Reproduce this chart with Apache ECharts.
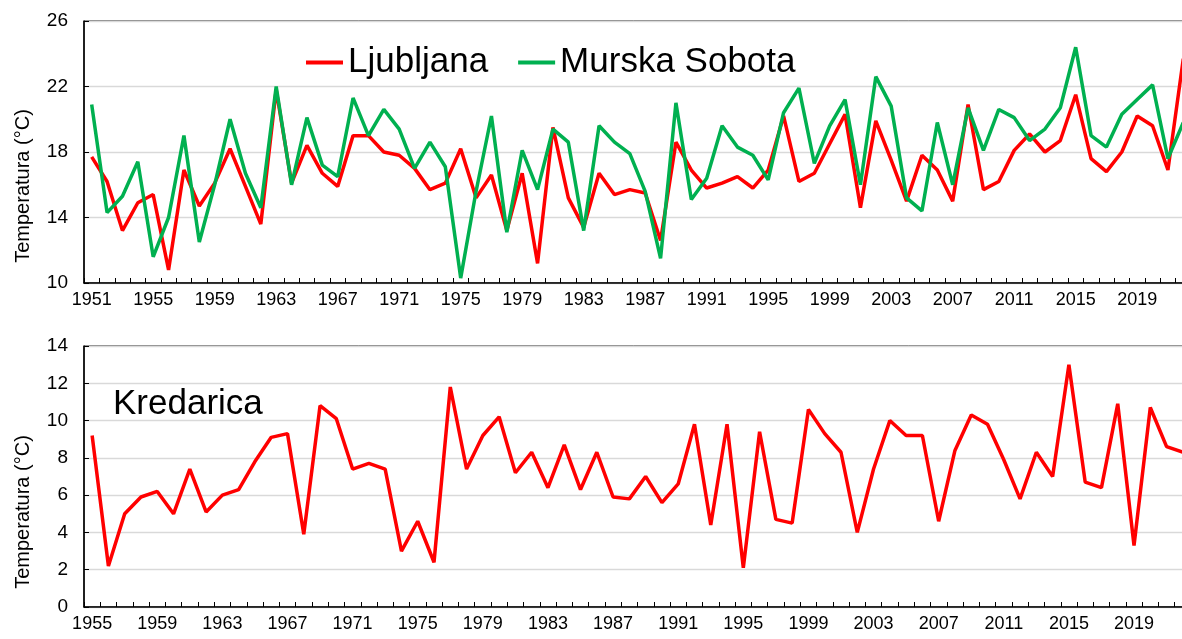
<!DOCTYPE html>
<html>
<head>
<meta charset="utf-8">
<title>Temperatura</title>
<script src="https://cdn.jsdelivr.net/npm/echarts@6/dist/echarts.min.js"></script>
<style>
  html, body { margin: 0; padding: 0; background: #fff; overflow: hidden; }
  #main { width: 1182px; height: 639px; }
</style>
</head>
<body>
<div id="main"></div>
<script>
// leta - zgornji graf
var yearsTop = [1951,1952,1953,1954,1955,1956,1957,1958,1959,1960,
  1961,1962,1963,1964,1965,1966,1967,1968,1969,1970,
  1971,1972,1973,1974,1975,1976,1977,1978,1979,1980,
  1981,1982,1983,1984,1985,1986,1987,1988,1989,1990,
  1991,1992,1993,1994,1995,1996,1997,1998,1999,2000,
  2001,2002,2003,2004,2005,2006,2007,2008,2009,2010,
  2011,2012,2013,2014,2015,2016,2017,2018,2019,2020,
  2021,2022];
var ljubljana = [17.7,16.2,13.2,14.9,15.4,10.8,16.9,14.7,16.1,18.2,
  15.9,13.6,21.8,16.1,18.4,16.7,15.9,19.0,19.0,18.0,
  17.8,17.0,15.7,16.1,18.2,15.2,16.6,13.2,16.7,11.2,
  19.5,15.2,13.4,16.7,15.4,15.7,15.5,12.6,18.6,16.9,
  15.8,16.1,16.5,15.8,16.9,20.2,16.2,16.7,18.5,20.3,
  14.6,19.9,17.5,15.0,17.8,16.9,15.0,20.9,15.7,16.2,
  18.1,19.1,18.0,18.7,21.5,17.6,16.8,18.0,20.2,19.6,
  16.9,23.7];
var murskaSobota = [20.9,14.3,15.3,17.4,11.6,14.0,19.0,12.5,16.0,20.0,
  16.7,14.6,22.0,16.0,20.1,17.2,16.5,21.3,19.0,20.6,
  19.4,17.0,18.6,17.1,10.3,15.6,20.2,13.1,18.1,15.7,
  19.4,18.6,13.2,19.6,18.6,17.9,15.6,11.5,21.0,15.1,
  16.4,19.6,18.3,17.8,16.3,20.4,21.9,17.3,19.6,21.2,
  16.0,22.6,20.8,15.2,14.4,19.8,16.0,20.7,18.1,20.6,
  20.1,18.7,19.4,20.7,24.4,19.0,18.3,20.3,21.2,22.1,
  17.6,19.8];

// leta - spodnji graf
var yearsBottom = [1955,1956,1957,1958,1959,1960,1961,1962,1963,1964,
  1965,1966,1967,1968,1969,1970,1971,1972,1973,1974,
  1975,1976,1977,1978,1979,1980,1981,1982,1983,1984,
  1985,1986,1987,1988,1989,1990,1991,1992,1993,1994,
  1995,1996,1997,1998,1999,2000,2001,2002,2003,2004,
  2005,2006,2007,2008,2009,2010,2011,2012,2013,2014,
  2015,2016,2017,2018,2019,2020,2021,2022];
var kredarica = [9.2,2.2,5.0,5.9,6.2,5.0,7.4,5.1,6.0,6.3,
  7.8,9.1,9.3,3.9,10.8,10.1,7.4,7.7,7.4,3.0,
  4.6,2.4,11.8,7.4,9.2,10.2,7.2,8.3,6.4,8.7,
  6.3,8.3,5.9,5.8,7.0,5.6,6.6,9.8,4.4,9.8,
  2.1,9.4,4.7,4.5,10.6,9.3,8.3,4.0,7.4,10.0,
  9.2,9.2,4.6,8.4,10.3,9.8,7.9,5.8,8.3,7.0,
  13.0,6.7,6.4,10.9,3.3,10.7,8.6,8.3];

var FONT = '"Liberation Sans", Arial, sans-serif';
var RED = '#ff0000', GREEN = '#00b050';

function xAxisCfg(idx, data) {
  return {
    type: 'category', gridIndex: idx, data: data, boundaryGap: true,
    axisLine: { lineStyle: { color: '#000', width: 1.5 } },
    axisTick: { show: true, inside: true, length: 5, interval: 0, lineStyle: { color: '#000', width: 1 } },
    axisLabel: { interval: 3, color: '#000', fontSize: 18, fontFamily: FONT, margin: 8 },
    splitLine: { show: false }
  };
}
function yAxisCfg(idx, min, max, step) {
  return {
    type: 'value', gridIndex: idx, min: min, max: max, interval: step,
    axisLine: { show: true, lineStyle: { color: '#000', width: 1.5 } },
    axisTick: { show: true, inside: true, length: 5, lineStyle: { color: '#000' } },
    axisLabel: { color: '#000', fontSize: 19, fontFamily: FONT, margin: 16 },
    splitLine: { lineStyle: { color: '#d9d9d9', width: 1.3 } }
  };
}
function lineCfg(name, data, color, xi) {
  return {
    name: name, type: 'line', xAxisIndex: xi, yAxisIndex: xi, data: data,
    showSymbol: false, symbol: 'none', animation: false,
    lineStyle: { color: color, width: 3.5 }, itemStyle: { color: color }
  };
}

var chart = echarts.init(document.getElementById('main'));
// plot sega malo cez desni rob slike (kot v originalu)
chart.setOption({
  backgroundColor: '#fff',
  animation: false,
  grid: [
    { left: 84, top: 21, height: 262, width: 1107, outerBoundsMode: 'none', containLabel: false,
      show: true, borderColor: '#000', borderWidth: 1 },
    { left: 84, top: 346, height: 261, width: 1107, outerBoundsMode: 'none', containLabel: false,
      show: true, borderColor: '#000', borderWidth: 1 }
  ],
  legend: {
    data: ['Ljubljana', 'Murska Sobota'],
    left: 301, top: 40, icon: 'rect', itemWidth: 37, itemHeight: 4, itemGap: 30,
    textStyle: { fontSize: 35, color: '#000', fontFamily: FONT }
  },
  xAxis: [xAxisCfg(0, yearsTop), xAxisCfg(1, yearsBottom)],
  yAxis: [yAxisCfg(0, 10, 26, 4), yAxisCfg(1, 0, 14, 2)],
  graphic: [
    { type: 'text', x: 23, y: 186, rotation: Math.PI / 2,
      style: { text: 'Temperatura (°C)', font: '20px ' + FONT, fill: '#000', textAlign: 'center', textVerticalAlign: 'middle' } },
    { type: 'text', x: 23, y: 512, rotation: Math.PI / 2,
      style: { text: 'Temperatura (°C)', font: '20px ' + FONT, fill: '#000', textAlign: 'center', textVerticalAlign: 'middle' } },
    { type: 'text', x: 113, y: 404,
      style: { text: 'Kredarica', font: '35px ' + FONT, fill: '#000', textAlign: 'left', textVerticalAlign: 'middle' } }
  ],
  series: [
    lineCfg('Ljubljana', ljubljana, RED, 0),
    lineCfg('Murska Sobota', murskaSobota, GREEN, 0),
    lineCfg('Kredarica', kredarica, RED, 1)
  ]
});
</script>
</body>
</html>
